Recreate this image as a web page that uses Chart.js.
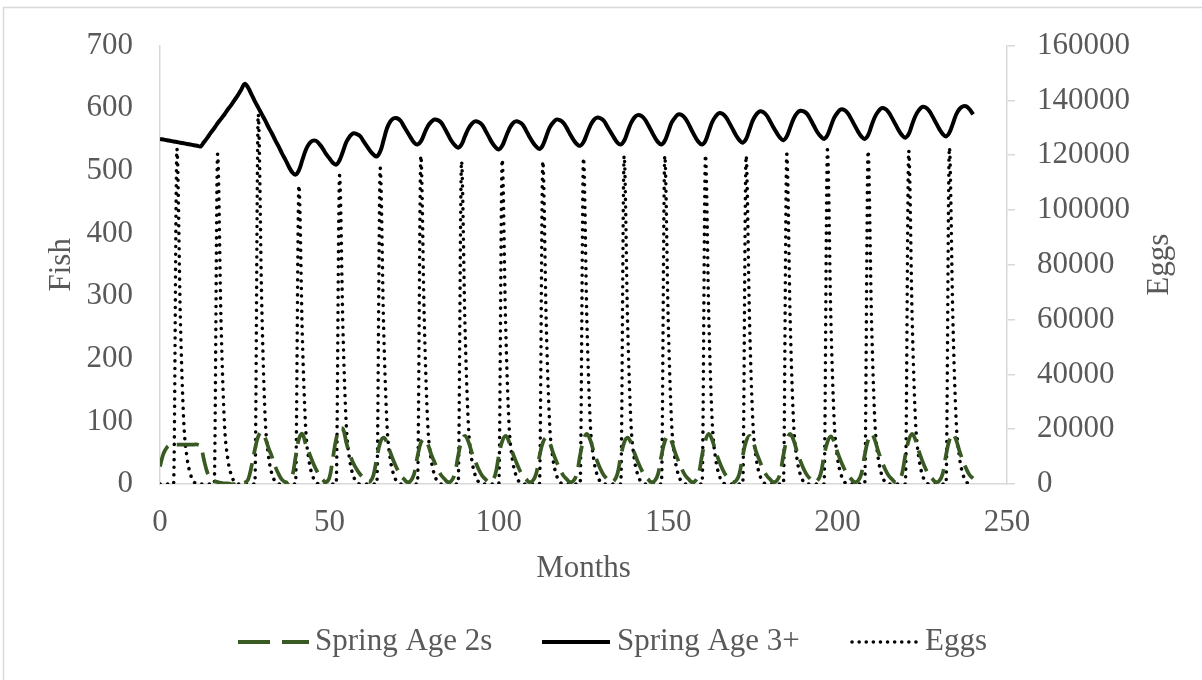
<!DOCTYPE html>
<html>
<head>
<meta charset="utf-8">
<script src="https://cdn.jsdelivr.net/npm/chart.js@4.4.1/dist/chart.umd.min.js"></script>
<style>
  html, body { margin: 0; padding: 0; background: #fff; }
  #wrap { width: 1202px; height: 680px; position: relative; }
</style>
</head>
<body>
<div id="wrap"><canvas id="chart"></canvas></div>
<script>
// Months 0..240
const months = Array.from({ length: 241 }, (_, i) => i);

// Spring Age 2s (fish), one row per year
const age2s = [
    28, 48, 58, 62, 63, 63, 63, 63, 63, 63, 63, 63,
    60, 38, 18, 10, 5, 3, 2, 1, 1, 0, 0, 0,
    1, 2, 7, 28, 55, 76, 83, 74, 58, 44, 28, 16,
    7, 3, 3, 12, 42, 72, 80, 64, 50, 36, 24, 14,
    7, 3, 10, 40, 72, 88, 88, 66, 48, 34, 24, 16,
    10, 5, 4, 14, 42, 66, 74, 66, 50, 36, 24, 14,
    8, 3, 5, 16, 44, 66, 72, 64, 48, 35, 23, 14,
    8, 3, 5, 16, 45, 68, 77, 68, 51, 37, 24, 14,
    8, 3, 5, 16, 45, 68, 77, 68, 51, 37, 24, 14,
    8, 3, 5, 16, 44, 66, 74, 66, 50, 36, 24, 14,
    8, 3, 5, 16, 46, 70, 80, 70, 52, 37, 24, 14,
    8, 3, 5, 16, 44, 66, 74, 66, 50, 36, 24, 14,
    8, 3, 5, 16, 45, 68, 77, 68, 51, 37, 24, 14,
    8, 3, 5, 16, 46, 70, 80, 70, 52, 37, 24, 14,
    8, 3, 5, 16, 45, 68, 77, 68, 51, 37, 24, 14,
    8, 3, 5, 16, 46, 70, 80, 70, 52, 37, 24, 14,
    8, 3, 5, 16, 45, 67, 76, 67, 50, 36, 24, 14,
    8, 3, 5, 16, 46, 70, 80, 70, 52, 37, 24, 14,
    8, 3, 5, 16, 46, 70, 80, 70, 52, 37, 24, 14,
    8, 3, 5, 16, 46, 70, 80, 70, 52, 37, 24, 14,
    9
];

// Spring Age 3+ (fish)
const age3plus = [
    551, 550, 549, 548, 547, 546, 545, 544, 543, 542, 541, 540,
    539, 546, 553, 561, 568, 576, 583, 590, 598, 605, 613, 621,
    630, 639, 633, 622, 611, 601, 591, 581, 570, 560, 549, 539,
    528, 518, 507, 498, 494, 501, 517, 533, 543, 548, 548, 543,
    536, 527, 520, 513, 510, 517, 531, 546, 555, 560, 559, 556,
    548, 540, 532, 526, 523, 531, 549, 568, 579, 584, 584, 580,
    571, 562, 553, 545, 542, 547, 559, 571, 578, 582, 581, 577,
    568, 558, 548, 541, 537, 542, 555, 567, 575, 579, 578, 574,
    565, 555, 545, 538, 534, 540, 553, 566, 575, 579, 578, 574,
    565, 555, 546, 539, 535, 541, 555, 569, 577, 582, 581, 577,
    569, 559, 550, 543, 540, 546, 559, 572, 581, 585, 584, 580,
    571, 562, 553, 545, 542, 548, 562, 576, 585, 589, 588, 583,
    574, 564, 554, 546, 542, 548, 562, 577, 585, 590, 589, 584,
    575, 564, 554, 546, 542, 548, 563, 578, 587, 592, 591, 586,
    577, 567, 557, 549, 545, 551, 566, 581, 590, 595, 594, 589,
    580, 570, 561, 553, 549, 555, 569, 583, 592, 596, 595, 591,
    582, 572, 562, 555, 551, 557, 571, 585, 593, 598, 597, 592,
    583, 573, 563, 555, 551, 557, 572, 586, 595, 600, 599, 594,
    585, 575, 565, 557, 553, 559, 574, 588, 597, 602, 601, 596,
    587, 577, 567, 559, 555, 561, 575, 590, 599, 603, 603, 598,
    590
];

// Eggs, one row per year
const eggs = [
    0, 0, 0, 0, 0, 122300, 61000, 23000, 9500, 3500, 800, 0,
    0, 0, 0, 0, 0, 120400, 60000, 22600, 9300, 3400, 800, 0,
    0, 0, 0, 0, 0, 135000, 67500, 25300, 10400, 3800, 900, 0,
    0, 0, 0, 0, 0, 109000, 54500, 20400, 8400, 3100, 700, 0,
    0, 0, 0, 0, 0, 112600, 56300, 21100, 8700, 3200, 700, 0,
    0, 0, 0, 0, 0, 115300, 57600, 21600, 8900, 3300, 800, 0,
    0, 0, 0, 0, 0, 119800, 59900, 22500, 9200, 3400, 800, 0,
    0, 0, 0, 0, 0, 117800, 58900, 22100, 9100, 3300, 800, 0,
    0, 0, 0, 0, 0, 118400, 59200, 22200, 9100, 3400, 800, 0,
    0, 0, 0, 0, 0, 117800, 58900, 22100, 9100, 3300, 800, 0,
    0, 0, 0, 0, 0, 119000, 59500, 22300, 9200, 3400, 800, 0,
    0, 0, 0, 0, 0, 119800, 59900, 22500, 9200, 3400, 800, 0,
    0, 0, 0, 0, 0, 119800, 59900, 22500, 9200, 3400, 800, 0,
    0, 0, 0, 0, 0, 120100, 60000, 22500, 9300, 3400, 800, 0,
    0, 0, 0, 0, 0, 119800, 59900, 22500, 9200, 3400, 800, 0,
    0, 0, 0, 0, 0, 120400, 60200, 22600, 9300, 3400, 800, 0,
    0, 0, 0, 0, 0, 122000, 61000, 22900, 9400, 3500, 800, 0,
    0, 0, 0, 0, 0, 121600, 60800, 22800, 9400, 3400, 800, 0,
    0, 0, 0, 0, 0, 121600, 60800, 22800, 9400, 3400, 800, 0,
    0, 0, 0, 0, 0, 122800, 61400, 23000, 9500, 3500, 800, 0,
    0
];

const textColor = '#595959';
const axisColor = '#D9D9D9';
const green = '#3A5A24';
const font = { family: '"Liberation Serif", "Times New Roman", serif', size: 31 };
const fontCss = `${font.size}px ${font.family}`;

const toPoints = (vals) => vals.map((v, i) => ({ x: months[i], y: v }));

// White background + light frame (only its top and left edges fall inside the picture)
const frame = {
    id: 'frame',
    beforeDraw(chart) {
        const ctx = chart.ctx;
        ctx.save();
        ctx.fillStyle = '#fff';
        ctx.fillRect(0, 0, chart.width, chart.height);
        ctx.strokeStyle = axisColor;
        ctx.lineWidth = 1.5;
        ctx.beginPath();
        ctx.moveTo(3.5, chart.height);
        ctx.lineTo(3.5, 7.5);
        ctx.lineTo(chart.width, 7.5);
        ctx.stroke();
        ctx.restore();
    }
};

// Secondary axis title reads bottom to top, like the primary one
const eggsTitle = {
    id: 'eggsTitle',
    afterDraw(chart) {
        const ctx = chart.ctx;
        const area = chart.chartArea;
        ctx.save();
        ctx.translate(1160, (area.top + area.bottom) / 2);
        ctx.rotate(-Math.PI / 2);
        ctx.fillStyle = textColor;
        ctx.font = fontCss;
        ctx.textAlign = 'center';
        ctx.textBaseline = 'middle';
        ctx.fillText('Eggs', 0, 0);
        ctx.restore();
    }
};

// Legend drawn below the axis title
const legendItems = [
    { text: 'Spring Age 2s', color: green, width: 4, dash: [32, 12], cap: 'butt', x0: 238, x1: 309, tx: 315 },
    { text: 'Spring Age 3+', color: '#000', width: 4, dash: [], cap: 'butt', x0: 542, x1: 610, tx: 617 },
    { text: 'Eggs', color: '#000', width: 3.5, dash: [0.1, 7], cap: 'round', x0: 852, x1: 922, tx: 925 }
];
const bottomLegend = {
    id: 'bottomLegend',
    afterDraw(chart) {
        const ctx = chart.ctx;
        const y = 642;
        ctx.save();
        legendItems.forEach(it => {
            ctx.beginPath();
            ctx.strokeStyle = it.color;
            ctx.lineWidth = it.width;
            ctx.lineCap = it.cap;
            ctx.setLineDash(it.dash);
            ctx.moveTo(it.x0, y);
            ctx.lineTo(it.x1, y);
            ctx.stroke();
            ctx.setLineDash([]);
            ctx.fillStyle = textColor;
            ctx.font = fontCss;
            ctx.textBaseline = 'middle';
            ctx.textAlign = 'left';
            ctx.fillText(it.text, it.tx, y);
        });
        ctx.restore();
    }
};

const ctx = document.getElementById('chart').getContext('2d');
new Chart(ctx, {
    type: 'line',
    data: {
        datasets: [
            {
                label: 'Spring Age 2s',
                data: toPoints(age2s),
                yAxisID: 'y',
                borderColor: green,
                borderWidth: 3.75,
                borderDash: [22, 9],
                tension: 0.4,
                pointRadius: 0,
                fill: false
            },
            {
                label: 'Spring Age 3+',
                data: toPoints(age3plus),
                yAxisID: 'y',
                borderColor: '#000',
                borderWidth: 4,
                tension: 0.4,
                pointRadius: 0,
                fill: false
            },
            {
                label: 'Eggs',
                data: toPoints(eggs),
                yAxisID: 'y2',
                borderColor: '#000',
                borderWidth: 3.5,
                borderDash: [0.1, 7.5],
                borderCapStyle: 'round',
                cubicInterpolationMode: 'monotone',
                pointRadius: 0,
                fill: false
            }
        ]
    },
    options: {
        responsive: true,
        maintainAspectRatio: false,
        animation: false,
        layout: { padding: { top: 38, left: 0, right: 0, bottom: 96 } },
        plugins: {
            legend: { display: false },
            tooltip: { enabled: false }
        },
        scales: {
            x: {
                type: 'linear',
                min: 0,
                max: 250,
                ticks: { stepSize: 50, padding: 20, maxRotation: 0, color: textColor, font, callback: v => String(v) },
                grid: { display: false, drawTicks: false },
                border: { display: true, color: axisColor, width: 1.5 },
                title: { display: true, text: 'Months', color: textColor, font: { ...font, lineHeight: 1 }, padding: 0 },
                afterFit: s => { s.height = 100; }
            },
            y: {
                position: 'left',
                min: 0,
                max: 700,
                ticks: { stepSize: 100, padding: 27, color: textColor, font, callback: v => String(v) },
                grid: { display: false, drawTicks: false },
                border: { display: true, color: axisColor, width: 1.5 },
                title: { display: true, text: 'Fish', color: textColor, font, padding: { top: 43 } },
                afterFit: s => { s.width = 160; }
            },
            y2: {
                position: 'right',
                min: 0,
                max: 160000,
                ticks: { stepSize: 20000, padding: 22, color: textColor, font, callback: v => String(v) },
                grid: { drawOnChartArea: false, drawTicks: true, tickLength: 8, color: axisColor, lineWidth: 1.5 },
                border: { display: true, color: axisColor, width: 1.5 },
                title: { display: false },
                afterFit: s => { s.width = 195; }
            }
        }
    },
    plugins: [frame, eggsTitle, bottomLegend]
});
</script>
</body>
</html>
